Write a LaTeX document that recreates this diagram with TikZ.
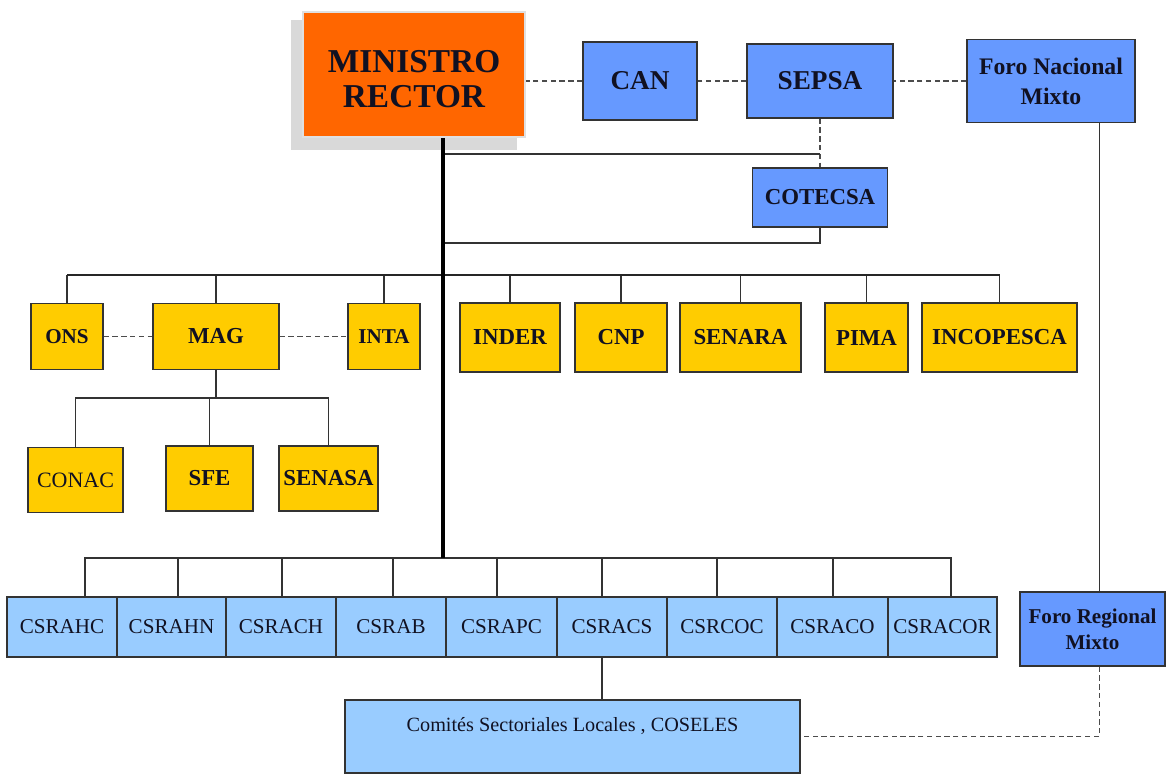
\documentclass[tikz,border=0pt]{standalone}
\usepackage{fontspec}
\setmainfont{Liberation Serif}
\usetikzlibrary{calc}
\definecolor{naranja}{HTML}{FF6600}
\definecolor{azul}{HTML}{6699FF}
\definecolor{celeste}{HTML}{99CCFF}
\definecolor{amarillo}{HTML}{FFCC00}
\definecolor{tinta}{HTML}{111122}
\tikzset{
	caja/.style 2 args={draw=black!80, line width=0.8pt, inner sep=0pt, minimum width=#1*0.02cm, minimum height=#2*0.02cm, align=center, text=tinta},
	azulbox/.style={fill=azul, font=\fontsize{15.5}{17}\selectfont\bfseries},
	amar/.style={fill=amarillo, font=\fontsize{13}{15}\selectfont\bfseries},
	amarfino/.style={fill=amarillo, font=\fontsize{12.5}{14}\selectfont},
	csr/.style={fill=celeste, font=\fontsize{12}{14}\selectfont},
	linea/.style={line width=0.8pt, color=black!80},
	barra/.style={line width=1.1pt, color=black!85},
	guion/.style={line width=0.8pt, color=black!70, dash pattern=on 3pt off 2pt},
	tronco/.style={line width=2.3pt, color=black}
}

\begin{document}
\begin{tikzpicture}[x=0.02cm, y=-0.02cm]
			%%%%% START %%%%%
			\useasboundingbox (0, 0) rectangle (1167, 775);
			
			\fill[black!15] (291, 20) rectangle (517, 150);
			\node[caja={222}{125}, fill=naranja, draw=black!12, line width=1.6pt] (minis) at (414, 74.5) {};
			\node[align=center, text=tinta, font=\fontsize{19}{20}\selectfont\bfseries] (mintxt) at ([yshift=-0.1cm]minis.center) {MINISTRO\\RECTOR};
			
			\node[caja={114}{78}, azulbox] (can) at (640, 81) {CAN};
			\node[caja={146}{74}, azulbox] (sepsa) at (820, 81) {SEPSA};
			\node[caja={168}{83}, azulbox, font=\fontsize{13.5}{17}\selectfont\bfseries] (foron) at (1051, 81) {Foro Nacional\\Mixto};
			\node[caja={135}{59}, azulbox, font=\fontsize{13}{15}\selectfont\bfseries] (cotecsa) at (820, 197.5) {COTECSA};
			\node[caja={145}{74}, azulbox, font=\fontsize{12}{15}\selectfont\bfseries] (forr) at (1092.5, 629) {Foro Regional\\Mixto};
			
			\node[caja={72}{66}, amar, font=\fontsize{12}{14}\selectfont\bfseries] (ons) at (67, 336.5) {ONS};
			\node[caja={126}{66}, amar] (mag) at (216, 336.5) {MAG};
			\node[caja={72}{66}, amar, font=\fontsize{12}{14}\selectfont\bfseries] (inta) at (384, 336.5) {INTA};
			\node[caja={100}{69}, amar] (inder) at (510, 337.5) {INDER};
			\node[caja={92}{69}, amar] (cnp) at (621, 337.5) {CNP};
			\node[caja={121}{69}, amar] (senara) at (740.5, 337.5) {SENARA};
			\node[caja={83}{69}, amar] (pima) at (866.5, 337.5) {PIMA};
			\node[caja={155}{69}, amar] (incopesca) at (999.5, 337.5) {INCOPESCA};
			
			\node[caja={95}{65}, amarfino] (conac) at (75.5, 480) {CONAC};
			\node[caja={87}{65}, amar] (sfe) at (209.5, 478.5) {SFE};
			\node[caja={99}{65}, amar] (senasa) at (328.5, 478.5) {SENASA};
			
			\node[caja={110}{60}, csr] (csrahc) at (62, 627) {CSRAHC};
			\node[caja={109}{60}, csr] (csrahn) at (171.5, 627) {CSRAHN};
			\node[caja={110}{60}, csr] (csrach) at (281, 627) {CSRACH};
			\node[caja={110}{60}, csr] (csrab) at (391, 627) {CSRAB};
			\node[caja={111}{60}, csr] (csrapc) at (501.5, 627) {CSRAPC};
			\node[caja={110}{60}, csr] (csracs) at (612, 627) {CSRACS};
			\node[caja={110}{60}, csr] (csrcoc) at (722, 627) {CSRCOC};
			\node[caja={111}{60}, csr] (csraco) at (832.5, 627) {CSRACO};
			\node[caja={109}{60}, csr] (csracor) at (942.5, 627) {CSRACOR};
			
			\node[caja={455}{73}, csr, font=\fontsize{11.5}{14}\selectfont] (coseles) at (572.5, 736.5) {Comités Sectoriales Locales , COSELES\\\mbox{}};
			
			% trunk and junctions
			\coordinate (tk) at ([xshift=29*0.02cm]minis.south);
			\coordinate (j1) at (443, 154);
			\coordinate (j2) at (443, 243);
			\coordinate (bar1) at (443, 275);
			\coordinate (bar2) at (211, 398);
			\coordinate (bar3) at (443, 558);
			
			\draw[guion] (can.west) -- (can.west -| minis.east);
			\draw[guion] (sepsa.west) -- (sepsa.west -| can.east);
			\draw[guion] (foron.west) -- (foron.west -| sepsa.east);
			
			\draw[guion] (sepsa.south) -- (cotecsa.north);
			\draw[linea] (j1) -- (j1 -| sepsa.south);
			\draw[linea] (cotecsa.south) |- (j2);
			
			\foreach \n in {ons,mag,inta,inder,cnp,senara,pima,incopesca}
				\draw[linea] (\n.north) -- (\n.north |- bar1);
			\draw[barra] (ons.north |- bar1) -- (incopesca.north |- bar1);
			
			\draw[guion] (ons.east) -- (mag.west);
			\draw[guion] (mag.east) -- (inta.west);
			
			\draw[linea] (mag.south) -- (mag.south |- bar2);
			\foreach \n in {conac,sfe,senasa}
				\draw[linea] (\n.north) |- (mag.south |- bar2);
			
			\foreach \n/\d in {csrahc/23,csrahn/6.5,csrach/1,csrab/2,csrapc/-4.5,csracs/-10,csrcoc/-5,csraco/0.5,csracor/8.5}
				\draw[linea] ([xshift=\d*0.02cm]\n.north) |- (bar3);
			
			\coordinate (cs) at ([xshift=-10*0.02cm]csracs.south);
			\draw[linea] (cs) -- (cs |- coseles.north);
			
			\coordinate (fx) at ([xshift=7*0.02cm]forr.north);
			\draw[linea] (fx) -- (fx |- foron.south);
			\coordinate (fy) at ([xshift=7*0.02cm]forr.south);
			\draw[guion] (fy) |- (coseles.east);
			
			\draw[tronco] (tk) -- (bar3);
			%%%%% END %%%%%
\end{tikzpicture}
\end{document}
